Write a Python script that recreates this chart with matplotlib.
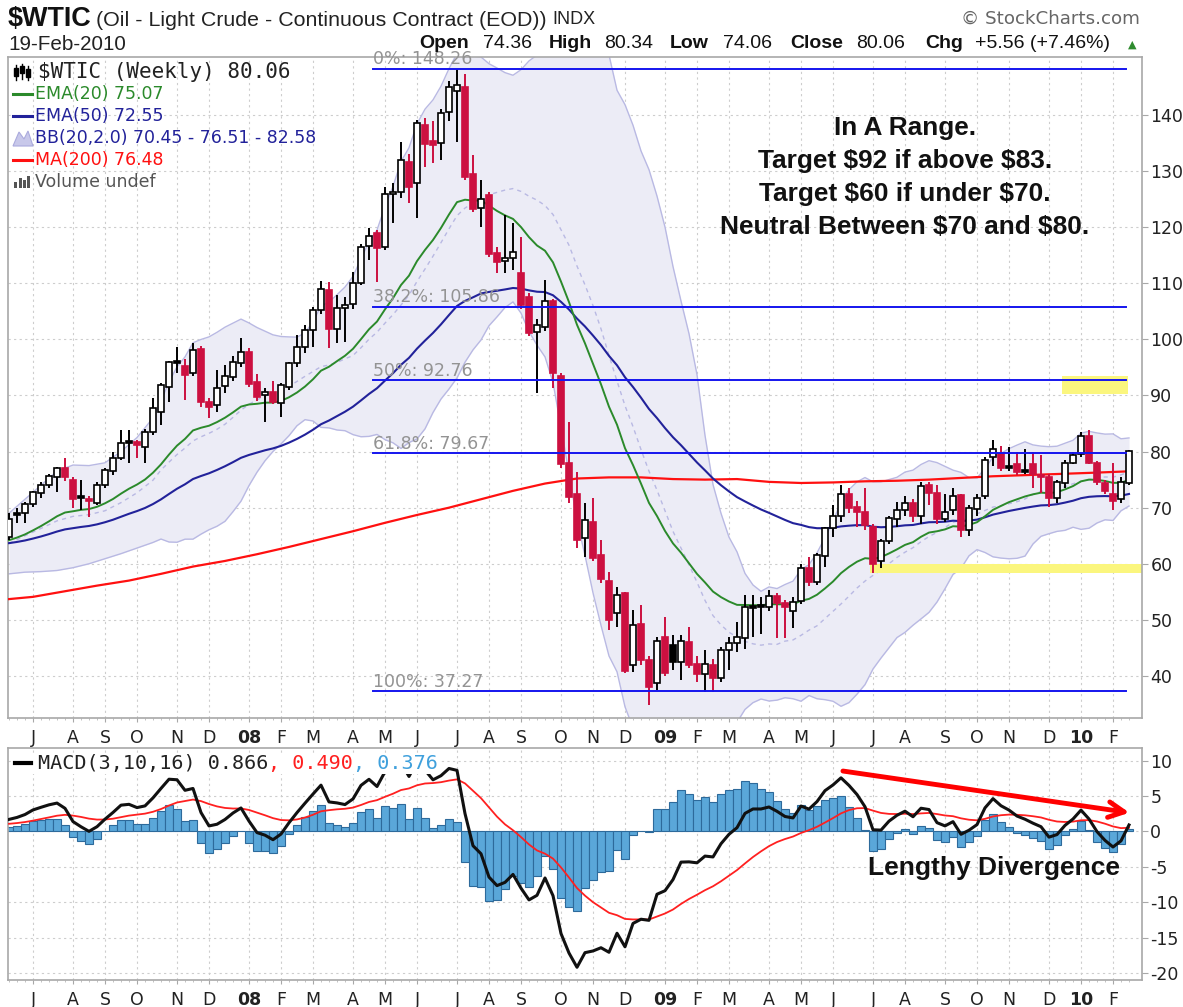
import numpy as np
import pandas as pd
import matplotlib
matplotlib.use('Agg')
import matplotlib.pyplot as plt
from matplotlib.patches import Rectangle, Polygon
from matplotlib.font_manager import FontProperties

W, H, DPI = 1183, 1007, 100

# ---------------- data (weekly bars, week starting Monday) ----------------
first_week = '2007-06-11'
opens = [64.8, 68.8, 69.1, 70.6, 72.7, 74.0, 75.5, 77.0, 75.0, 71.8, 71.6, 70.9, 74.0, 76.5, 78.9, 81.6, 81.7, 80.8, 83.5,
         87.0, 91.6, 95.9, 95.3, 94.0, 98.3, 88.8, 88.3, 91.7, 93.3, 95.8, 97.8, 92.4, 90.0, 90.6, 88.7, 91.5, 95.8, 98.6,
         101.7, 105.2, 108.8, 101.8, 105.6, 106.3, 110.1, 116.6, 119.0, 116.5, 125.9, 126.3, 131.6, 127.9, 138.2, 135.3,
         135.0, 140.5, 144.2, 145.0, 129.5, 123.5, 125.8, 115.4, 114.0, 114.6, 111.8, 107.6, 101.3, 102.2, 106.9, 93.5,
         78.0, 72.5, 64.6, 67.5, 61.5, 57.0, 51.2, 54.8, 42.0, 49.2, 42.8, 38.8, 47.0, 45.5, 42.5, 46.0, 42.2, 40.3, 42.0,
         39.6, 44.6, 45.9, 46.8, 52.2, 52.4, 52.3, 54.3, 53.0, 51.5, 53.3, 59.3, 56.8, 61.4, 66.4, 68.5, 72.5, 70.2, 69.2,
         66.5, 60.5, 64.0, 68.0, 69.5, 70.9, 68.5, 74.0, 72.7, 67.9, 69.5, 72.2, 66.0, 69.8, 72.0, 79.0, 79.5, 77.2, 77.8,
         76.5, 77.8, 75.9, 75.5, 71.7, 74.4, 78.0, 79.6, 82.8, 78.0, 74.4, 72.5, 71.5, 74.36]
highs = [69.1, 70.0, 71.0, 73.0, 74.5, 76.0, 77.3, 78.8, 75.5, 75.0, 72.0, 74.5, 77.0, 80.0, 83.9, 83.8, 82.0, 84.0, 89.5,
         92.2, 96.2, 98.6, 96.5, 99.3, 98.8, 89.5, 94.5, 95.5, 97.0, 100.2, 98.5, 93.8, 91.3, 92.5, 92.2, 96.0, 100.8,
         102.5, 105.8, 110.5, 110.2, 108.0, 107.6, 112.0, 117.0, 119.9, 119.5, 127.2, 127.8, 135.2, 133.0, 139.1, 139.5,
         139.0, 141.0, 146.0, 148.26, 147.3, 132.9, 128.4, 126.2, 116.5, 122.2, 120.7, 118.3, 108.2, 103.7, 110.6, 107.2,
         94.0, 85.3, 76.4, 70.8, 71.7, 64.2, 58.5, 55.9, 55.0, 51.8, 52.7, 43.5, 47.0, 50.5, 47.3, 47.3, 48.7, 43.5, 44.6,
         43.0, 45.2, 47.0, 49.6, 54.4, 54.4, 54.0, 55.3, 54.8, 53.5, 54.0, 59.9, 61.2, 62.0, 66.5, 70.5, 74.0, 73.5, 71.2,
         73.5, 67.0, 64.5, 68.5, 71.0, 72.0, 71.5, 74.6, 74.5, 74.0, 72.5, 73.5, 72.5, 70.5, 72.5, 79.0, 82.0, 81.0, 80.8,
         80.0, 80.5, 80.0, 79.4, 76.0, 75.0, 78.5, 80.0, 83.5, 83.8, 78.3, 75.0, 78.0, 75.5, 80.34]
lows = [64.3, 67.3, 67.3, 70.2, 71.8, 73.5, 72.8, 74.8, 70.0, 69.6, 68.3, 70.5, 73.5, 75.8, 78.5, 78.0, 78.9, 78.0, 83.0,
        84.7, 88.8, 94.0, 89.2, 93.5, 88.0, 86.0, 87.0, 90.5, 92.5, 95.0, 91.5, 89.0, 85.3, 88.5, 86.2, 91.0, 95.0, 97.5,
        98.6, 104.5, 98.5, 99.3, 99.6, 105.5, 109.7, 114.2, 110.2, 116.0, 120.7, 125.2, 124.3, 121.6, 130.7, 131.5, 132.0,
        139.0, 135.2, 128.5, 122.8, 120.0, 114.7, 111.8, 111.8, 112.4, 105.5, 100.6, 90.5, 101.5, 91.3, 77.0, 70.8, 62.8,
        61.2, 60.5, 56.5, 48.2, 48.7, 40.5, 40.7, 42.0, 34.8, 37.5, 40.0, 41.1, 39.3, 41.5, 39.0, 37.2, 37.2, 39.0, 41.1,
        44.2, 44.8, 47.0, 47.5, 51.5, 46.8, 46.8, 48.5, 52.8, 56.0, 56.2, 59.5, 64.8, 67.5, 69.0, 66.6, 66.0, 58.3, 59.3,
        63.5, 66.5, 68.5, 67.5, 67.0, 70.5, 67.1, 67.5, 68.7, 64.8, 65.0, 68.5, 71.5, 77.5, 76.5, 76.5, 75.8, 76.0, 73.5,
        72.6, 70.1, 70.8, 73.5, 77.8, 79.0, 77.7, 74.0, 72.4, 69.5, 70.8, 74.06]
closes = [68.0, 69.1, 70.6, 72.8, 74.0, 75.6, 77.0, 75.5, 71.5, 72.0, 71.1, 74.0, 76.7, 78.8, 81.6, 81.7, 81.2, 83.5, 87.8,
          91.9, 96.0, 96.2, 93.7, 98.1, 88.8, 88.0, 91.4, 93.5, 96.0, 97.8, 92.0, 89.7, 90.6, 88.9, 91.9, 95.8, 98.6,
          101.7, 105.2, 109.0, 101.8, 105.6, 106.2, 110.1, 116.4, 118.5, 116.3, 126.0, 126.3, 132.0, 127.2, 138.6, 134.9,
          134.6, 140.3, 145.0, 145.4, 129.0, 123.3, 125.0, 115.2, 113.8, 114.6, 115.5, 106.2, 101.2, 102.6, 106.9, 94.0,
          77.8, 71.9, 64.2, 67.8, 61.0, 57.3, 50.0, 54.4, 40.8, 49.0, 42.9, 38.1, 46.3, 40.6, 42.5, 46.3, 42.0, 40.3, 42.2,
          39.6, 44.6, 45.9, 47.0, 52.3, 52.4, 52.5, 54.3, 53.0, 52.3, 53.2, 59.3, 56.8, 61.6, 66.3, 68.5, 72.5, 70.0, 69.2,
          66.9, 59.9, 64.0, 68.1, 69.5, 70.9, 68.5, 73.9, 72.7, 68.0, 69.3, 72.0, 66.0, 70.0, 71.8, 78.5, 80.5, 77.0, 77.4,
          76.4, 76.7, 76.0, 75.5, 71.7, 74.5, 78.0, 79.4, 82.7, 78.0, 74.5, 72.9, 71.2, 74.5, 80.06]

# 200-week moving average (week index, value)
ma200_weeks = [-3, 0, 4, 8, 12, 16, 20, 24, 28, 32, 36, 40, 44, 48, 52, 56, 60, 64, 68, 72, 76, 80, 84, 88, 92, 96,
               100, 104, 108, 112, 116, 120, 124, 128, 132, 137]
ma200_values = [53.7, 54.1, 55.1, 56.1, 57.0, 58.2, 59.5, 60.5, 61.7, 63.0, 64.4, 65.8, 67.3, 68.7, 70.0, 71.5, 73.0,
                74.3, 75.2, 75.4, 75.4, 75.1, 75.0, 75.1, 74.6, 74.4, 74.5, 74.7, 74.8, 75.0, 75.3, 75.6, 75.8, 76.0,
                76.2, 76.48]

# Bollinger band before 20 weeks of data are on the chart
bb_early_weeks = [-3, -1, 1, 3, 5, 7, 9, 11, 13, 15]
bb_early_upper = [69.0, 71.5, 74.0, 76.5, 77.6, 77.5, 78.0, 80.0, 82.5, 86.0]
bb_early_lower = [58.2, 58.5, 58.6, 58.8, 59.3, 60.0, 60.9, 61.8, 62.8, 63.8]

# indicator starting states read at the left edge
ema20_seed, ema50_seed = 63.8, 63.5
macd_fast_seed, macd_slow_seed, macd_signal_seed = 66.5, 65.0, 1.0

fib_levels = [148.26, 105.86, 92.76, 79.67, 37.27]
fib_names = ['0%', '38.2%', '50%', '61.8%', '100%']
price_ticks = [40, 50, 60, 70, 80, 90, 100, 110, 120, 130, 140]
macd_ticks = [10, 5, 0, -5, -10, -15, -20]

# ---------------- fonts ----------------
plt.rcParams['font.family'] = ['DejaVu Sans']
plt.rcParams['axes.unicode_minus'] = False
FP_BOLD = FontProperties(family=['Liberation Sans', 'DejaVu Sans'], weight='bold')
FP_REG = FontProperties(family=['Liberation Sans', 'DejaVu Sans'])

# ---------------- derived ----------------
n = len(closes)
idx = np.arange(-3, -3 + n)
dates = pd.date_range(first_week, periods=n, freq='7D')
o = np.array(opens); h = np.array(highs); l = np.array(lows); c = np.array(closes)


def ema(values, span, seed):
    k = 2.0 / (span + 1)
    out, e = [], seed
    for v in values:
        e = e + k * (v - e)
        out.append(e)
    return np.array(out)


ema20 = ema(c, 20, ema20_seed)
ema50 = ema(c, 50, ema50_seed)
cs = pd.Series(c)
mid = cs.rolling(20).mean().values
sd = cs.rolling(20).std(ddof=0).values
ok = ~np.isnan(mid)
bb_x = np.concatenate([bb_early_weeks, idx[ok]])
bb_up = np.concatenate([bb_early_upper, (mid + 2 * sd)[ok]])
bb_lo = np.concatenate([bb_early_lower, (mid - 2 * sd)[ok]])
bb_mid = (bb_up + bb_lo) / 2

macd = ema(c, 3, macd_fast_seed) - ema(c, 10, macd_slow_seed)
signal = ema(macd, 16, macd_signal_seed)
hist = macd - signal

mt_pos, mt_lab, mt_bold = [], [], []
for k in range(1, n):
    if dates[k].month != dates[k - 1].month:
        mt_pos.append(idx[k])
        if dates[k].month == 1:
            mt_lab.append(dates[k].strftime('%y')); mt_bold.append(True)
        else:
            mt_lab.append(dates[k].strftime('%b')[0]); mt_bold.append(False)

# ---------------- figure ----------------
fig = plt.figure(figsize=(W / DPI, H / DPI), dpi=DPI)
fig.patch.set_facecolor('white')
fig.canvas.draw()
R = fig.canvas.get_renderer()


def fx(x):
    return x / W


def fy(y):
    return 1 - y / H


def fit_text(x, y, s, fp, target_w, size, **kw):
    """place text and scale its size so that its width matches the reference width"""
    t = fig.text(x, y, s, fontproperties=fp, **kw)
    t.set_fontsize(size)
    w = t.get_window_extent(R).width
    t.set_fontsize(size * target_w / w)
    return t


XL = (-3.125, 138.625)
ax1 = fig.add_axes([fx(8), fy(718), fx(1142) - fx(8), fy(57) - fy(718)])
ax2 = fig.add_axes([fx(8), fy(980), fx(1142) - fx(8), fy(748) - fy(980)])

GRID = dict(color='#cdcdcd', linestyle=(0, (2, 3)), linewidth=0.8)
for ax in (ax1, ax2):
    ax.set_xlim(*XL)
    ax.set_facecolor('white')
    for s in ax.spines.values():
        s.set_color('#a8a8a8'); s.set_linewidth(1.2)
    ax.yaxis.tick_right()
    ax.set_xticks(mt_pos)
    ax.set_xticklabels(mt_lab)
    ax.set_xticks(idx, minor=True)
    ax.tick_params(axis='x', which='major', length=3, color='#a8a8a8', labelsize=12.5, pad=5, labelcolor='#222222')
    ax.tick_params(axis='x', which='minor', length=1.5, color='#b8b8b8')
    ax.tick_params(axis='y', which='major', length=4, color='#a8a8a8', labelsize=12.5, pad=2, labelcolor='#222222')
    for t, b in zip(ax.get_xticklabels(), mt_bold):
        if b:
            t.set_fontweight('bold')
    ax.grid(True, which='major', **GRID)
    ax.set_axisbelow(True)

# ---- main panel ----
ax1.set_ylim(32.5, 150.35)
ax1.set_yticks(price_ticks)

ax1.fill_between(bb_x, bb_lo, bb_up, color='#ececf6', zorder=1, lw=0)
ax1.plot(bb_x, bb_up, color='#b9b9e3', lw=1.0, zorder=2)
ax1.plot(bb_x, bb_lo, color='#b9b9e3', lw=1.0, zorder=2)
ax1.plot(bb_x, bb_mid, color='#b9b9e3', lw=1.0, ls=(0, (3, 3)), zorder=2)
ax1.plot(ma200_weeks, ma200_values, color='#ff1010', lw=1.6, zorder=3)
ax1.plot(idx, ema50, color='#22229a', lw=1.5, zorder=3)
ax1.plot(idx, ema20, color='#2b8a2b', lw=1.4, zorder=3)

RED = '#cc1040'
bw = 0.72
for k in range(n):
    x = idx[k]
    prev = c[k - 1] if k > 0 else c[k] - 1
    col = 'black' if c[k] >= prev else RED
    hollow = c[k] >= o[k]
    ax1.plot([x, x], [l[k], h[k]], color=col, lw=1.4, zorder=4, solid_capstyle='butt')
    lo_b = min(o[k], c[k]); hgt = abs(c[k] - o[k])
    if hgt < 0.35:
        lo_b -= (0.35 - hgt) / 2; hgt = 0.35
        fc = col
    else:
        fc = 'white' if hollow else col
    ax1.add_patch(Rectangle((x - bw / 2, lo_b), bw, hgt, facecolor=fc, edgecolor=col, lw=1.2, zorder=5))

# Fibonacci retracement lines
fib_x0, fib_x1 = 42.5, 136.6
for lev, nm in zip(fib_levels, fib_names):
    ax1.plot([fib_x0, fib_x1], [lev, lev], color='#1515ee', lw=1.4, zorder=6)
    ax1.annotate(f'{nm}: {lev:.2f}', xy=(fib_x0, lev), xytext=(0, 0.3), textcoords='offset points',
                 ha='left', va='bottom', fontsize=12.5, color='#939393', zorder=7, annotation_clip=False)

# yellow target zones
ax1.add_patch(Rectangle((128.6, 90.3), 136.9 - 128.6, 93.5 - 90.3, facecolor='#fbf67e', edgecolor='none', zorder=2.5))
ax1.add_patch(Rectangle((104.6, 58.4), 138.625 - 104.6, 59.9 - 58.4, facecolor='#fbf67e', edgecolor='none', zorder=2.5))

# annotation text
note = ['In A Range.', 'Target \\$92 if above \\$83.', 'Target \\$60 if under \\$70.', 'Neutral Between \\$70 and \\$80.']
t_ref = fit_text(fx(905), fy(161), note[1], FP_BOLD, 295, 18, ha='center', va='center', color='#111111')
note_size = t_ref.get_fontsize()
t_ref.remove()
for j, s in enumerate(note):
    t = fig.text(fx(905), fy(128 + 33 * j), s, fontproperties=FP_BOLD, ha='center', va='center', color='#111111')
    t.set_fontsize(note_size)

# legend (main)
fig.text(fx(38), fy(72), '\\$WTIC (Weekly) 80.06', ha='left', va='center', fontsize=15, family='DejaVu Sans Mono',
         color='#222222')
leg = [('EMA(20) 75.07', '#2b8a2b', 94), ('EMA(50) 72.55', '#22229a', 116),
       ('BB(20,2.0) 70.45 - 76.51 - 82.58', '#22229a', 138), ('MA(200) 76.48', '#ff1010', 160)]
for s, col, yy in leg:
    fig.text(fx(35), fy(yy), s, ha='left', va='center', fontsize=12.5, color=col)
    if not s.startswith('BB'):
        fig.add_artist(plt.Line2D([fx(13), fx(32)], [fy(yy), fy(yy)], color=col, lw=2.2))
fig.add_artist(Polygon([[fx(13), fy(146)], [fx(19), fy(132)], [fx(24), fy(139)], [fx(28), fy(131)], [fx(33), fy(146)]],
                       closed=True, facecolor='#c8c8ea', edgecolor='#aaaadd', lw=0.8))
fig.text(fx(35), fy(182), 'Volume undef', ha='left', va='center', fontsize=12.5, color='#555555')
for k2, hh in enumerate([6, 10, 8, 12]):
    fig.add_artist(Rectangle((fx(14 + 4.5 * k2), fy(188)), 3 / W, hh / H, facecolor='#555555', edgecolor='none'))
for k2, (y0, y1, b0, b1) in enumerate([(65, 80, 68, 76), (64, 79, 66, 73), (66, 80, 69, 77)]):
    xx = 16 + 6 * k2
    fig.add_artist(plt.Line2D([fx(xx), fx(xx)], [fy(y1), fy(y0)], color='black', lw=1))
    fig.add_artist(Rectangle((fx(xx - 2), fy(b1)), 4 / W, (b1 - b0) / H, facecolor='black', edgecolor='black'))

# ---- MACD panel ----
ax2.set_ylim(-21.0, 11.8)
ax2.set_yticks(macd_ticks)
ax2.bar(idx, hist, width=1.0, color='#5aa7d9', edgecolor='#2d6a9b', lw=0.8, zorder=2)
ax2.plot(idx, signal, color='#ff2020', lw=1.3, zorder=3)
ax2.plot(idx, macd, color='#111111', lw=2.2, zorder=4)
ax2.annotate('', xy=(137.4, 2.6), xytext=(100.9, 8.6),
             arrowprops=dict(arrowstyle='->', color='#ff0000', lw=3.5, mutation_scale=28), zorder=6)
fit_text(fx(994), fy(868), 'Lengthy Divergence', FP_BOLD, 252, 19, ha='center', va='center', color='#111111')

MSZ = 14.5
t1 = fig.text(fx(38), fy(763), 'MACD(3,10,16) 0.866', ha='left', va='center', fontsize=MSZ,
              family='DejaVu Sans Mono', color='#222222', zorder=10)
bb1 = t1.get_window_extent(R)
t2 = fig.text(bb1.x1 / W, fy(763), ', 0.490', ha='left', va='center', fontsize=MSZ, family='DejaVu Sans Mono',
              color='#ff2020', zorder=10)
bb2 = t2.get_window_extent(R)
t3 = fig.text(bb2.x1 / W, fy(763), ', 0.376', ha='left', va='center', fontsize=MSZ, family='DejaVu Sans Mono',
              color='#3fa0dc', zorder=10)
bb3 = t3.get_window_extent(R)
fig.add_artist(Rectangle((fx(11), fy(774)), (bb3.x1 + 2 - 11) / W, 20 / H, facecolor='white', edgecolor='none',
                         zorder=9))
fig.add_artist(plt.Line2D([fx(15), fx(31)], [fy(763), fy(763)], color='black', lw=3, zorder=10))

# ---- header ----
fit_text(fx(8), fy(19), '\\$WTIC', FP_BOLD, 84, 20, ha='left', va='center', color='#111111')
tsub = fit_text(fx(96), fy(20), '(Oil - Light Crude - Continuous Contract (EOD))', FP_REG, 452, 15,
                ha='left', va='center', color='#222222')
xs = tsub.get_window_extent(R).x1
fig.text((xs + 6) / W, fy(20), 'INDX', ha='left', va='center', fontsize=13, fontproperties=FP_REG, color='#222222')
fit_text(fx(8), fy(44), '19-Feb-2010', FP_REG, 118, 12.5, ha='left', va='center', color='#222222')
fit_text(fx(1140), fy(19), '\u00a9 StockCharts.com', FontProperties(family='DejaVu Sans'), 178, 13,
         ha='right', va='center', color='#666666')

pieces = [('Open', True, 419), ('74.36', False, 483), ('High', True, 549), ('80.34', False, 604),
          ('Low', True, 670), ('74.06', False, 723), ('Close', True, 790), ('80.06', False, 856),
          ('Chg', True, 925), ('+5.56 (+7.46%)', False, 975)]
for s, b, xp in pieces:
    fig.text(fx(xp), fy(43), s, ha='left', va='center', fontsize=14,
             fontproperties=FP_BOLD if b else FP_REG, color='#111111')
fig.text(fx(1132), fy(45), '\u25b2', ha='center', va='center', fontsize=8, color='#2e8b2e')

fig.savefig('out.png', dpi=DPI)
